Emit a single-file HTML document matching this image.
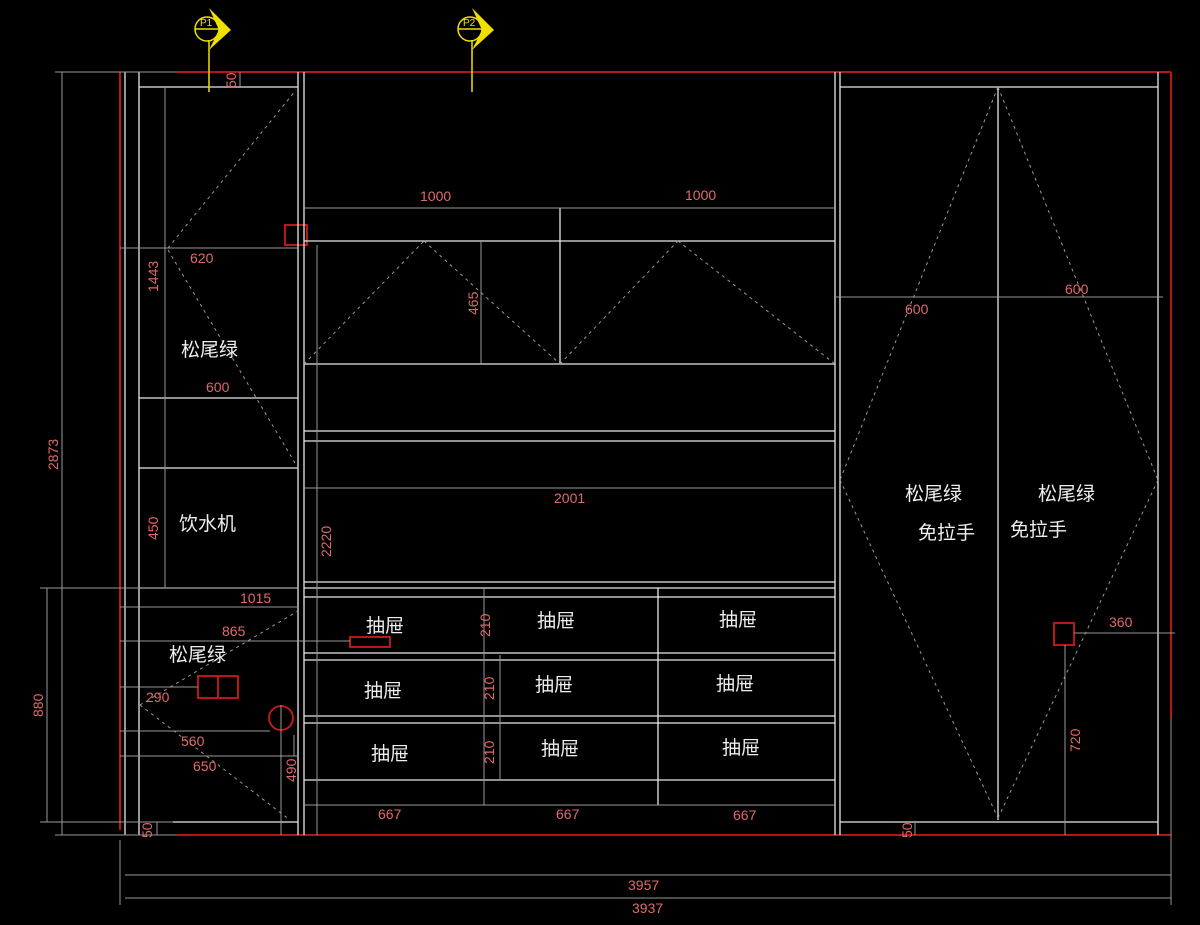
<!DOCTYPE html>
<html><head><meta charset="utf-8"><style>
html,body{margin:0;padding:0;background:#000;width:1200px;height:925px;overflow:hidden}
svg{display:block}
text{font-family:"Liberation Sans","Noto Sans CJK SC",sans-serif}
.r{fill:#e06a6a;font-size:14px}
.c{fill:#eee;font-size:19px}
</style></head><body>
<svg width="1200" height="925" viewBox="0 0 1200 925">
<g fill="none" stroke-width="1.3">
<g stroke="#d01818" stroke-width="1.8">
<line x1="177" y1="72" x2="1171" y2="72"/>
<line x1="120" y1="72" x2="120" y2="830"/>
<line x1="1171" y1="72" x2="1171" y2="718"/>
<line x1="177" y1="835" x2="1171" y2="835"/>
<rect x="285" y="225" width="22" height="20"/>
<rect x="350" y="637" width="40" height="10"/>
<rect x="198" y="676" width="40" height="22"/><line x1="218" y1="676" x2="218" y2="698"/>
<circle cx="281" cy="718" r="12"/>
<rect x="1054" y="623" width="20" height="22"/>
</g>
<g stroke="#e8e8e8">
<line x1="125" y1="72" x2="125" y2="835"/>
<line x1="139" y1="72" x2="139" y2="835"/>
<line x1="298" y1="72" x2="298" y2="835"/>
<line x1="304" y1="72" x2="304" y2="835"/>
<line x1="139" y1="87" x2="298" y2="87"/>
<line x1="139" y1="398" x2="298" y2="398"/>
<line x1="139" y1="468" x2="298" y2="468"/>
<line x1="139" y1="588" x2="298" y2="588"/>
<line x1="173" y1="822" x2="298" y2="822"/>
<line x1="304" y1="241" x2="835" y2="241"/>
<line x1="304" y1="364" x2="835" y2="364"/>
<line x1="560" y1="208" x2="560" y2="364"/>
<line x1="304" y1="431" x2="835" y2="431"/>
<line x1="304" y1="441" x2="835" y2="441"/>
<line x1="304" y1="582" x2="835" y2="582"/>
<line x1="304" y1="588" x2="835" y2="588"/>
<line x1="304" y1="597" x2="835" y2="597"/>
<line x1="304" y1="653" x2="835" y2="653"/>
<line x1="304" y1="660" x2="835" y2="660"/>
<line x1="304" y1="716" x2="835" y2="716"/>
<line x1="304" y1="723" x2="835" y2="723"/>
<line x1="304" y1="780" x2="835" y2="780"/>
<line x1="658" y1="588" x2="658" y2="805"/>
<line x1="835" y1="72" x2="835" y2="835"/>
<line x1="840" y1="72" x2="840" y2="835"/>
<line x1="1158" y1="72" x2="1158" y2="835"/>
<line x1="840" y1="87" x2="1158" y2="87"/>
<line x1="840" y1="822" x2="1158" y2="822"/>
<line x1="998" y1="87" x2="998" y2="820"/>
</g>
<g stroke="#999" stroke-width="1">
<line x1="55" y1="72" x2="177" y2="72"/>
<line x1="62" y1="72" x2="62" y2="835"/>
<line x1="40" y1="588" x2="298" y2="588"/>
<line x1="47" y1="588" x2="47" y2="822"/>
<line x1="40" y1="822" x2="173" y2="822"/>
<line x1="55" y1="835" x2="177" y2="835"/>
<line x1="165" y1="87" x2="165" y2="588"/>
<line x1="120" y1="248" x2="298" y2="248"/>
<line x1="120" y1="607" x2="298" y2="607"/>
<line x1="120" y1="641" x2="350" y2="641"/>
<line x1="120" y1="687" x2="198" y2="687"/>
<line x1="120" y1="731" x2="270" y2="731"/>
<line x1="120" y1="756" x2="298" y2="756"/>
<line x1="281" y1="705" x2="281" y2="835"/>
<line x1="294" y1="735" x2="294" y2="756"/>
<line x1="157" y1="822" x2="157" y2="835"/>
<line x1="240" y1="72" x2="240" y2="87"/>
<line x1="304" y1="208" x2="835" y2="208"/>
<line x1="481" y1="241" x2="481" y2="364"/>
<line x1="317" y1="245" x2="317" y2="835"/>
<line x1="304" y1="488" x2="835" y2="488"/>
<line x1="484" y1="588" x2="484" y2="805"/>
<line x1="500" y1="655" x2="500" y2="780"/>
<line x1="304" y1="805" x2="835" y2="805"/>
<line x1="835" y1="297" x2="1163" y2="297"/>
<line x1="1074" y1="633" x2="1175" y2="633"/>
<line x1="1065" y1="645" x2="1065" y2="835"/>
<line x1="915" y1="822" x2="915" y2="835"/>
<line x1="1171" y1="718" x2="1171" y2="905"/>
<line x1="120" y1="840" x2="120" y2="905"/>
<line x1="125" y1="875" x2="1171" y2="875"/>
<line x1="125" y1="898" x2="1171" y2="898"/>
</g>
<g stroke="#999" stroke-width="1" stroke-dasharray="3,4">
<line x1="168" y1="248" x2="296" y2="90"/>
<line x1="168" y1="250" x2="298" y2="468"/>
<line x1="304" y1="364" x2="424" y2="241"/>
<line x1="424" y1="241" x2="560" y2="364"/>
<line x1="560" y1="364" x2="678" y2="241"/>
<line x1="678" y1="241" x2="835" y2="364"/>
<line x1="140" y1="705" x2="298" y2="611"/>
<line x1="140" y1="705" x2="290" y2="820"/>
<line x1="998" y1="87" x2="840" y2="480"/>
<line x1="840" y1="480" x2="998" y2="818"/>
<line x1="998" y1="87" x2="1158" y2="480"/>
<line x1="1158" y1="480" x2="998" y2="818"/>
</g>
<g stroke="#f0e000" stroke-width="1.5">
<line x1="209" y1="40" x2="209" y2="92"/>
<line x1="472" y1="40" x2="472" y2="92"/>
<circle cx="207" cy="29" r="12"/><line x1="195" y1="29" x2="219" y2="29"/>
<circle cx="470" cy="29" r="12"/><line x1="458" y1="29" x2="482" y2="29"/>
</g>
<polygon points="209,8 231,30 209,50 219,30" fill="#f0e000"/>
<polygon points="472,8 494,30 472,50 482,30" fill="#f0e000"/>
</g>
<text x="200" y="26" font-size="10" fill="#f0e000">P1</text>
<text x="463" y="26" font-size="10" fill="#f0e000">P2</text>
<g class="r">
<text x="420" y="201">1000</text><text x="685" y="200">1000</text>
<text x="190" y="263">620</text><text x="206" y="392">600</text>
<text x="240" y="603">1015</text><text x="222" y="636">865</text>
<text x="146" y="702">290</text><text x="181" y="746">560</text><text x="193" y="771">650</text>
<text x="554" y="503">2001</text>
<text x="378" y="819">667</text><text x="556" y="819">667</text><text x="733" y="820">667</text>
<text x="905" y="314">600</text><text x="1065" y="294">600</text>
<text x="1109" y="627">360</text>
<text x="628" y="890">3957</text><text x="632" y="913">3937</text>
<text transform="translate(58,470) rotate(-90)">2873</text>
<text transform="translate(43,717) rotate(-90)">880</text>
<text transform="translate(158,292) rotate(-90)">1443</text>
<text transform="translate(158,540) rotate(-90)">450</text>
<text transform="translate(331,557) rotate(-90)">2220</text>
<text transform="translate(478,315) rotate(-90)">465</text>
<text transform="translate(490,637) rotate(-90)">210</text>
<text transform="translate(494,700) rotate(-90)">210</text>
<text transform="translate(494,764) rotate(-90)">210</text>
<text transform="translate(296,782) rotate(-90)">490</text>
<text transform="translate(236,88) rotate(-90)">50</text>
<text transform="translate(152,838) rotate(-90)">50</text>
<text transform="translate(912,838) rotate(-90)">50</text>
<text transform="translate(1080,752) rotate(-90)">720</text>
</g>
<g class="c">
<text x="181" y="356">松尾绿</text><text x="179" y="530">饮水机</text>
<text x="169" y="661">松尾绿</text>
<text x="366" y="632">抽屉</text><text x="537" y="627">抽屉</text><text x="719" y="626">抽屉</text>
<text x="364" y="697">抽屉</text><text x="535" y="691">抽屉</text><text x="716" y="690">抽屉</text>
<text x="371" y="760">抽屉</text><text x="541" y="755">抽屉</text><text x="722" y="754">抽屉</text>
<text x="905" y="500">松尾绿</text><text x="1038" y="500">松尾绿</text>
<text x="918" y="539">免拉手</text><text x="1010" y="536">免拉手</text>
</g>
</svg>
</body></html>
